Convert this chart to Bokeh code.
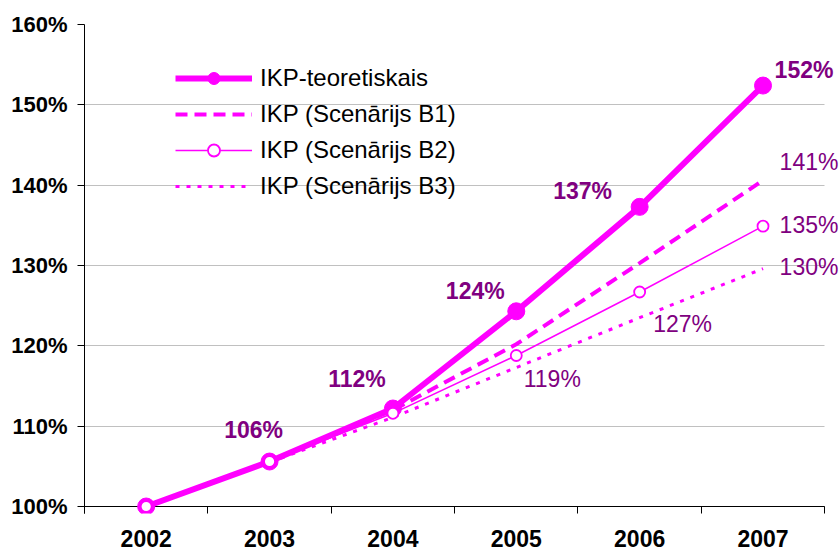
from bokeh.plotting import figure
from bokeh.models import (Range1d, FixedTicker, LabelSet, ColumnDataSource,
                          Legend, LegendItem)
from bokeh.core.properties import value
from bokeh.embed import file_html
from bokeh.resources import INLINE

# ---- data ----
years = ["2002", "2003", "2004", "2005", "2006", "2007"]
teor = [100, 105.6, 112.2, 124.3, 137.3, 152.4]
b1 = [100, 105.6, 112.0, 120.2, 130.3, 140.6]
b2 = [100, 105.6, 111.6, 118.8, 126.7, 134.9]
b3 = [100, 105.5, 111.1, 117.3, 123.5, 129.6]
y_ticks = [100, 110, 120, 130, 140, 150, 160]
names = ["IKP-teoretiskais", "IKP (Scenārijs B1)", "IKP (Scenārijs B2)", "IKP (Scenārijs B3)"]

MAG = "#FF00FF"
PURPLE = "#800080"
FONT = "Liberation Sans"

n = len(years)
x = [i + 0.5 for i in range(n)]

# frame extends a little past the last category so right-hand labels are not clipped
p = figure(width=839, height=551, output_backend="svg", toolbar_location=None,
           x_range=Range1d(0, 6.12), y_range=Range1d(99.13, 160),
           min_border_left=84, min_border_right=0, min_border_top=24, min_border_bottom=38)
p.outline_line_color = None
p.background_fill_color = "white"
p.border_fill_color = "white"

# base line (x axis line at 100%) spanning the categories only
p.segment(x0=[0], y0=[y_ticks[0]], x1=[n], y1=[y_ticks[0]],
          line_color="black", line_width=1, level="underlay")

r3 = p.line(x, b3, line_color=MAG, line_width=3, line_dash="4 7")
r1 = p.line(x, b1, line_color=MAG, line_width=4, line_dash="12 7")
r0 = p.line(x, teor, line_color=MAG, line_width=6)
r0m = p.scatter(x, teor, size=17, fill_color=MAG, line_color=MAG)
r2 = p.line(x, b2, line_color=MAG, line_width=1.5)
r2m = p.scatter(x, b2, size=11, fill_color="white", line_color=MAG, line_width=1.8)

# ---- axes ----
xa = p.xaxis[0]
xa.ticker = FixedTicker(ticks=x, minor_ticks=list(range(n + 1)))
xa.major_label_overrides = {xi: yr for xi, yr in zip(x, years)}
xa.axis_line_color = None
xa.major_tick_in = 0
xa.major_tick_out = 0
xa.minor_tick_in = 7
xa.minor_tick_out = 0
xa.minor_tick_line_color = "black"
xa.major_label_standoff = 16
xa.major_label_text_font = FONT
xa.major_label_text_font_size = "23px"
xa.major_label_text_font_style = "bold"
xa.major_label_text_color = "black"

ya = p.yaxis[0]
ya.ticker = FixedTicker(ticks=y_ticks)
ya.major_label_overrides = {t: f"{t}%" for t in y_ticks}
ya.axis_line_color = "black"
ya.major_tick_line_color = "black"
ya.major_tick_in = 0
ya.major_tick_out = 7
ya.minor_tick_line_color = None
ya.major_label_standoff = 10
ya.major_label_text_font = FONT
ya.major_label_text_font_size = "22px"
ya.major_label_text_font_style = "bold"
ya.major_label_text_color = "black"

p.xgrid.visible = False
p.ygrid.ticker = FixedTicker(ticks=y_ticks[1:])
p.ygrid.cross_bounds = (0, n)
p.ygrid.grid_line_color = "#C0C0C0"
p.ygrid.grid_line_width = 1

# ---- data labels ----
bold_idx = [1, 2, 3, 4, 5]
bold_dx = [-16, -36, -41, -57, 41]
bold_dy = [32, 30, 20, 16, 16]
bold_src = ColumnDataSource(dict(
    x=[x[i] for i in bold_idx], y=[teor[i] for i in bold_idx],
    t=[f"{round(teor[i])}%" for i in bold_idx], dx=bold_dx, dy=bold_dy))
p.add_layout(LabelSet(x="x", y="y", text="t", source=bold_src, x_offset="dx", y_offset="dy",
                      text_align="center", text_baseline="middle",
                      text_font=value(FONT), text_font_size="23px", text_font_style="bold",
                      text_color=PURPLE))

norm_pts = [(b1, 5), (b2, 3), (b2, 4), (b2, 5), (b3, 5)]
norm_dx = [46, 36, 43, 46, 46]
norm_dy = [18, -24, -32, 1, 2]
norm_src = ColumnDataSource(dict(
    x=[x[i] for s, i in norm_pts], y=[s[i] for s, i in norm_pts],
    t=[f"{round(s[i])}%" for s, i in norm_pts], dx=norm_dx, dy=norm_dy))
p.add_layout(LabelSet(x="x", y="y", text="t", source=norm_src, x_offset="dx", y_offset="dy",
                      text_align="center", text_baseline="middle",
                      text_font=value(FONT), text_font_size="23px",
                      text_color=PURPLE))

# ---- legend ----
legend = Legend(items=[
    LegendItem(label=names[0], renderers=[r0, r0m]),
    LegendItem(label=names[1], renderers=[r1]),
    LegendItem(label=names[2], renderers=[r2, r2m]),
    LegendItem(label=names[3], renderers=[r3]),
], location=(91, 312))
legend.label_text_font = FONT
legend.label_text_font_size = "24px"
legend.label_text_color = "black"
legend.glyph_width = 77
legend.glyph_height = 30
legend.spacing = 6
legend.padding = 0
legend.margin = 0
legend.label_standoff = 8
legend.border_line_color = None
legend.background_fill_alpha = 0
p.add_layout(legend)

open("out.html", "w").write(file_html(p, INLINE))
